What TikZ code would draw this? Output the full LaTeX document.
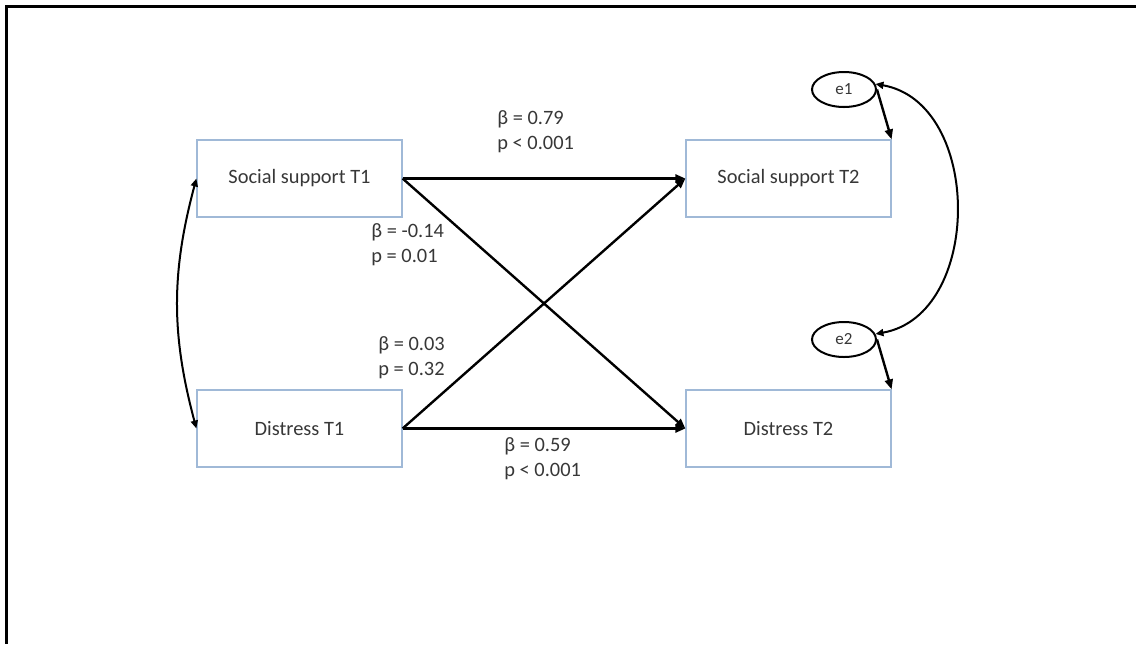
\documentclass[tikz,border=0pt]{standalone}
\usepackage{fontspec}
\setmainfont{Carlito}
\usetikzlibrary{positioning, arrows.meta, shapes.geometric}
\definecolor{boxblue}{RGB}{160,185,215}
\definecolor{textgrey}{RGB}{55,55,55}

\begin{document}
\begin{tikzpicture}
    [
        x=0.5pt, y=-0.5pt,
        node distance=125pt and 244.5pt, on grid,
        var_node/.style={rectangle, draw=boxblue, line width=0.6pt, minimum width=102.5pt, minimum height=38.5pt, text=textgrey, font=\fontsize{10.2}{12}\selectfont},
        err_node/.style={ellipse, draw=black, line width=1pt, minimum width=32pt, minimum height=17.5pt, inner sep=0pt, text=textgrey, font=\fontsize{8.5}{9}\selectfont},
        coef/.style={align=left, anchor=west, inner sep=0pt, text=textgrey, font=\fontsize{10.2}{12.5}\selectfont},
        path_arr/.style={-{Triangle[length=5pt, width=4pt]}, line width=1.2pt, color=black},
        cov_arr/.style={{Triangle[length=4pt, width=3.5pt]}-{Triangle[length=4pt, width=3.5pt]}, line width=1pt, color=black},
    ]
        \useasboundingbox (0,0) rectangle (1136,644);
        \draw[line width=1.5pt] (1136,6) -- (6,6) -- (6,644);

        \node[var_node] (sst1) at (299.5,178.5) {Social support T1};
        \node[var_node] (sst2) [right = of sst1] {Social support T2};
        \node[var_node] (dt1) [below = of sst1] {Distress T1};
        \node[var_node] (dt2) [below = of sst2] {Distress T2};
        \node[err_node] (e1) [above right = 44.5pt and 27.75pt of sst2] {e1};
        \node[err_node] (e2) [above right = 44.5pt and 27.75pt of dt2] {e2};

        \draw[path_arr] (sst1.east) -- (sst2.west);
        \draw[path_arr] (sst1.east) -- (dt2.west);
        \draw[path_arr] (dt1.east) -- (sst2.west);
        \draw[path_arr] (dt1.east) -- (dt2.west);
        \draw[path_arr] (e1.east) -- (sst2.north east);
        \draw[path_arr] (e2.east) -- (dt2.north east);
        \draw[cov_arr] (sst1.west) to[bend right=15] (dt1.west);
        \draw[cov_arr] (e1.10) to[bend left=80, looseness=1.12] (e2.10);

        \node[coef] (b79) at (497,132) {β = 0.79\\p < 0.001};
        \node[coef] (b14) at (371,245) {β = -0.14\\p = 0.01};
        \node[coef] (b03) at (378,358) {β = 0.03\\p = 0.32};
        \node[coef] (b59) at (504,459) {β = 0.59\\p < 0.001};
    \end{tikzpicture}
\end{document}
